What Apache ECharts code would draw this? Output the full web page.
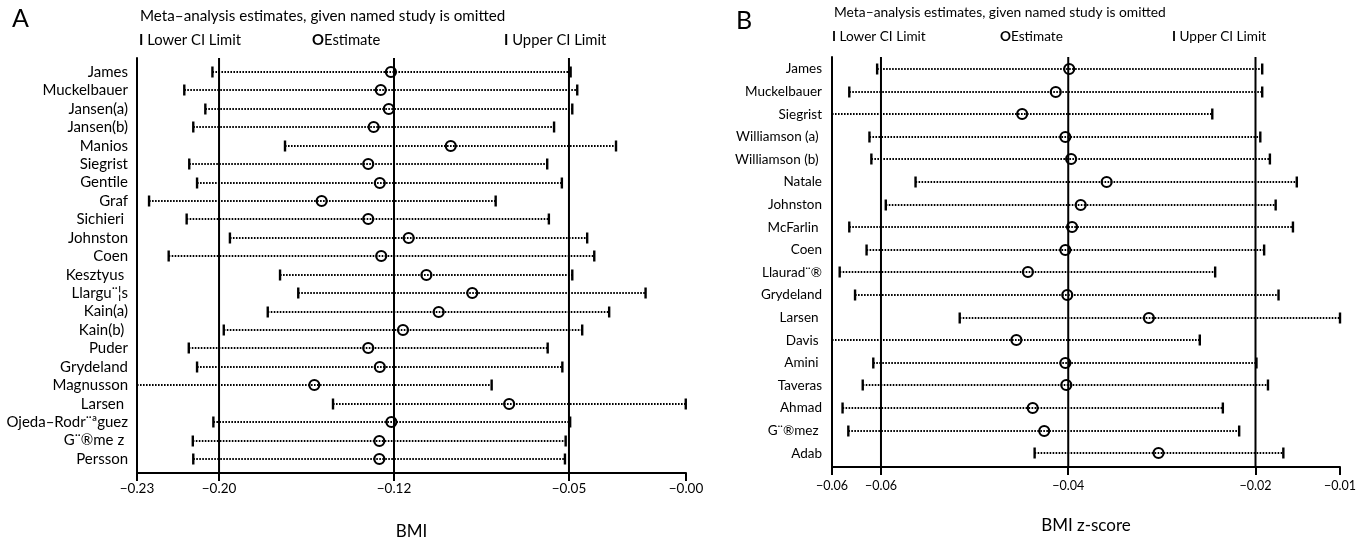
<!DOCTYPE html>
<html>
<head>
<meta charset="utf-8">
<script src="https://cdn.jsdelivr.net/npm/echarts@6/dist/echarts.min.js"></script>
<style>
  html, body { margin: 0; padding: 0; background: #fff; }
  #chart { width: 1370px; height: 546px; }
</style>
</head>
<body>
<div id="chart"></div>
<script>
// ---- Panel A: BMI, leave-one-out meta-analysis estimates ----
const studiesA = ['James', 'Muckelbauer', 'Jansen(a)', 'Jansen(b)', 'Manios', 'Siegrist', 'Gentile', 'Graf',
  'Sichieri ', 'Johnston', 'Coen', 'Kesztyus ', 'Llargu¨¦s', 'Kain(a)', 'Kain(b) ', 'Puder', 'Grydeland',
  'Magnusson', 'Larsen ', 'Ojeda–Rodr¨ªguez', 'G¨®me z ', 'Persson'];
const lowerA = [-0.2011, -0.2130, -0.2041, -0.2092, -0.1704, -0.2109, -0.2076, -0.2279, -0.2120, -0.1937, -0.2196,
  -0.1725, -0.1648, -0.1777, -0.1963, -0.2111, -0.2076, -0.2330, -0.1501, -0.2007, -0.2094, -0.2092];
const estimateA = [-0.1256, -0.1299, -0.1265, -0.1329, -0.1003, -0.1352, -0.1303, -0.1549, -0.1352, -0.1181, -0.1297,
  -0.1106, -0.0912, -0.1054, -0.1205, -0.1352, -0.1303, -0.1580, -0.0756, -0.1254, -0.1305, -0.1305];
const upperA = [-0.0496, -0.0468, -0.0489, -0.0566, -0.0304, -0.0595, -0.0533, -0.0813, -0.0588, -0.0426, -0.0396,
  -0.0489, -0.0179, -0.0333, -0.0447, -0.0593, -0.0531, -0.0830, -0.0009, -0.0498, -0.0517, -0.0520];
// axis range ends, overall lower CI / estimate / upper CI
const ticksA = [-0.2330, -0.1983, -0.1243, -0.0503, -0.0008];
const tickLabelsA = ['−0.23', '−0.20', '−0.12', '−0.05', '−0.00'];

// ---- Panel B: BMI z-score ----
const studiesB = ['James', 'Muckelbauer', 'Siegrist', 'Williamson (a) ', 'Williamson (b) ', 'Natale', 'Johnston',
  'McFarlin ', 'Coen', 'Llaurad¨®', 'Grydeland', 'Larsen ', 'Davis ', 'Amini ', 'Taveras', 'Ahmad', 'G¨®mez ', 'Adab'];
const lowerB = [-0.0597, -0.0626, -0.0644, -0.0605, -0.0603, -0.0557, -0.0588, -0.0626, -0.0608, -0.0636, -0.0620,
  -0.0511, -0.0644, -0.0601, -0.0612, -0.0633, -0.0627, -0.0433];
const estimateB = [-0.0397, -0.0411, -0.0446, -0.0401, -0.0395, -0.0358, -0.0385, -0.0394, -0.0401, -0.0440, -0.0399,
  -0.0314, -0.0452, -0.0401, -0.0400, -0.0435, -0.0423, -0.0304];
const upperB = [-0.0196, -0.0196, -0.0248, -0.0198, -0.0188, -0.0160, -0.0182, -0.0164, -0.0194, -0.0245, -0.0179,
  -0.0115, -0.0261, -0.0202, -0.0190, -0.0237, -0.0220, -0.0174];
const ticksB = [-0.0644, -0.0593, -0.0398, -0.0203, -0.0115];
const tickLabelsB = ['−0.06', '−0.06', '−0.04', '−0.02', '−0.01'];

const FONT = 'Lato, "Open Sans", sans-serif';

// one row = dotted CI line, end bars and the hollow estimate marker
function renderStudy(params, api) {
  const row = api.value(0);
  const lo = api.value(1), est = api.value(2), hi = api.value(3);
  const cs = params.coordSys;
  const pLo = api.coord([lo, row]);
  const pEst = api.coord([est, row]);
  const pHi = api.coord([hi, row]);
  const y = Math.round(pEst[1]);
  const xStart = Math.max(pLo[0], cs.x);
  const children = [{
    type: 'line',
    shape: { x1: xStart, y1: y, x2: pHi[0], y2: y },
    style: { stroke: '#000', lineWidth: 2, lineDash: [1.6, 1.4] }
  }];
  if (pLo[0] >= cs.x + 1) {
    children.push({ type: 'line', shape: { x1: pLo[0], y1: y - 5.5, x2: pLo[0], y2: y + 5.5 },
      style: { stroke: '#000', lineWidth: 2.4 } });
  }
  children.push({ type: 'line', shape: { x1: pHi[0], y1: y - 5.5, x2: pHi[0], y2: y + 5.5 },
    style: { stroke: '#000', lineWidth: 2.4 } });
  children.push({ type: 'circle', shape: { cx: pEst[0], cy: y, r: 5 },
    style: { fill: 'none', stroke: '#000', lineWidth: 2.2 } });
  return { type: 'group', children };
}

// full-height reference lines at the overall CI limits and estimate
function renderRefLine(params, api) {
  const cs = params.coordSys;
  const x = api.coord([api.value(0), 1])[0];
  return { type: 'line', shape: { x1: x, y1: cs.y, x2: x, y2: cs.y + cs.height },
    style: { stroke: '#000', lineWidth: 2 } };
}

function rows(lower, est, upper) {
  return est.map((e, i) => [i + 1, lower[i], e, upper[i]]);
}

function xAxisFor(idx, ticks, labels, name, fontSize, labelMargin) {
  return {
    type: 'value', gridIndex: idx, min: ticks[0], max: ticks[ticks.length - 1],
    splitLine: { show: false },
    axisLine: { show: true, onZero: false, lineStyle: { color: '#000', width: 2 } },
    axisTick: { show: true, customValues: ticks, length: 8, inside: false, lineStyle: { color: '#000', width: 2 } },
    axisLabel: {
      customValues: ticks, margin: labelMargin, color: '#000', fontSize: fontSize, fontFamily: FONT,
      formatter: v => labels[ticks.findIndex(t => Math.abs(t - v) < 1e-9)]
    },
    name: name, nameLocation: 'middle', nameGap: 50,
    nameTextStyle: { color: '#000', fontSize: 17, fontFamily: FONT }
  };
}

function yAxisFor(idx, studies, yMin, yMax, fontSize, labelMargin) {
  return {
    type: 'value', gridIndex: idx, inverse: true, min: yMin, max: yMax,
    splitLine: { show: false },
    axisLine: { show: true, onZero: false, lineStyle: { color: '#000', width: 2 } },
    axisTick: { show: false },
    axisLabel: {
      customValues: studies.map((s, i) => i + 1), margin: labelMargin, color: '#000',
      fontSize: fontSize, fontFamily: FONT,
      formatter: v => studies[Math.round(v) - 1]
    }
  };
}

const chart = echarts.init(document.getElementById('chart'), null, { renderer: 'canvas' });

function textEl(text, left, top, size) {
  return { type: 'text', left: left, top: top,
    style: { text: text, fill: '#000', fontSize: size, fontFamily: FONT } };
}
function legendEl(top, size, lowerX, estX, upperX) {
  const rich = { b: { fontWeight: 'bold', fontSize: size, fontFamily: FONT } };
  return [
    { type: 'text', left: lowerX, top: top,
      style: { text: '{b|I} Lower CI Limit', fill: '#000', fontSize: size, fontFamily: FONT, rich } },
    { type: 'text', left: estX, top: top,
      style: { text: '{b|O}Estimate', fill: '#000', fontSize: size, fontFamily: FONT, rich } },
    { type: 'text', left: upperX, top: top,
      style: { text: '{b|I} Upper CI Limit', fill: '#000', fontSize: size, fontFamily: FONT, rich } }
  ];
}

chart.setOption({
  backgroundColor: '#fff',
  animation: false,
  grid: [
    { left: 137, top: 58, width: 549, height: 415 },
    { left: 832, top: 57, width: 508, height: 410 }
  ],
  xAxis: [
    xAxisFor(0, ticksA, tickLabelsA, 'BMI', 13.5, 9),
    xAxisFor(1, ticksB, tickLabelsB, 'BMI z-score', 12.5, 12)
  ],
  yAxis: [
    yAxisFor(0, studiesA, 0.24, 22.76, 15, 9),
    yAxisFor(1, studiesB, 0.47, 18.61, 13.5, 10)
  ],
  graphic: [
    textEl('A', 12, 6, 25),
    textEl('Meta–analysis estimates, given named study is omitted', 140, 9, 15.2),
    ...legendEl(33, 14.8, 139, 312, 504),
    textEl('B', 736, 8, 25),
    textEl('Meta–analysis estimates, given named study is omitted', 834, 6, 13.8),
    ...legendEl(30, 13.6, 832, 1000, 1172)
  ],
  series: [
    { type: 'custom', xAxisIndex: 0, yAxisIndex: 0, renderItem: renderRefLine, silent: true,
      data: ticksA.slice(1, 4).map(v => [v]), encode: { x: 0 } },
    { type: 'custom', xAxisIndex: 0, yAxisIndex: 0, renderItem: renderStudy,
      data: rows(lowerA, estimateA, upperA), encode: { x: 2, y: 0 } },
    { type: 'custom', xAxisIndex: 1, yAxisIndex: 1, renderItem: renderRefLine, silent: true,
      data: ticksB.slice(1, 4).map(v => [v]), encode: { x: 0 } },
    { type: 'custom', xAxisIndex: 1, yAxisIndex: 1, renderItem: renderStudy,
      data: rows(lowerB, estimateB, upperB), encode: { x: 2, y: 0 } }
  ]
});
</script>
</body>
</html>
